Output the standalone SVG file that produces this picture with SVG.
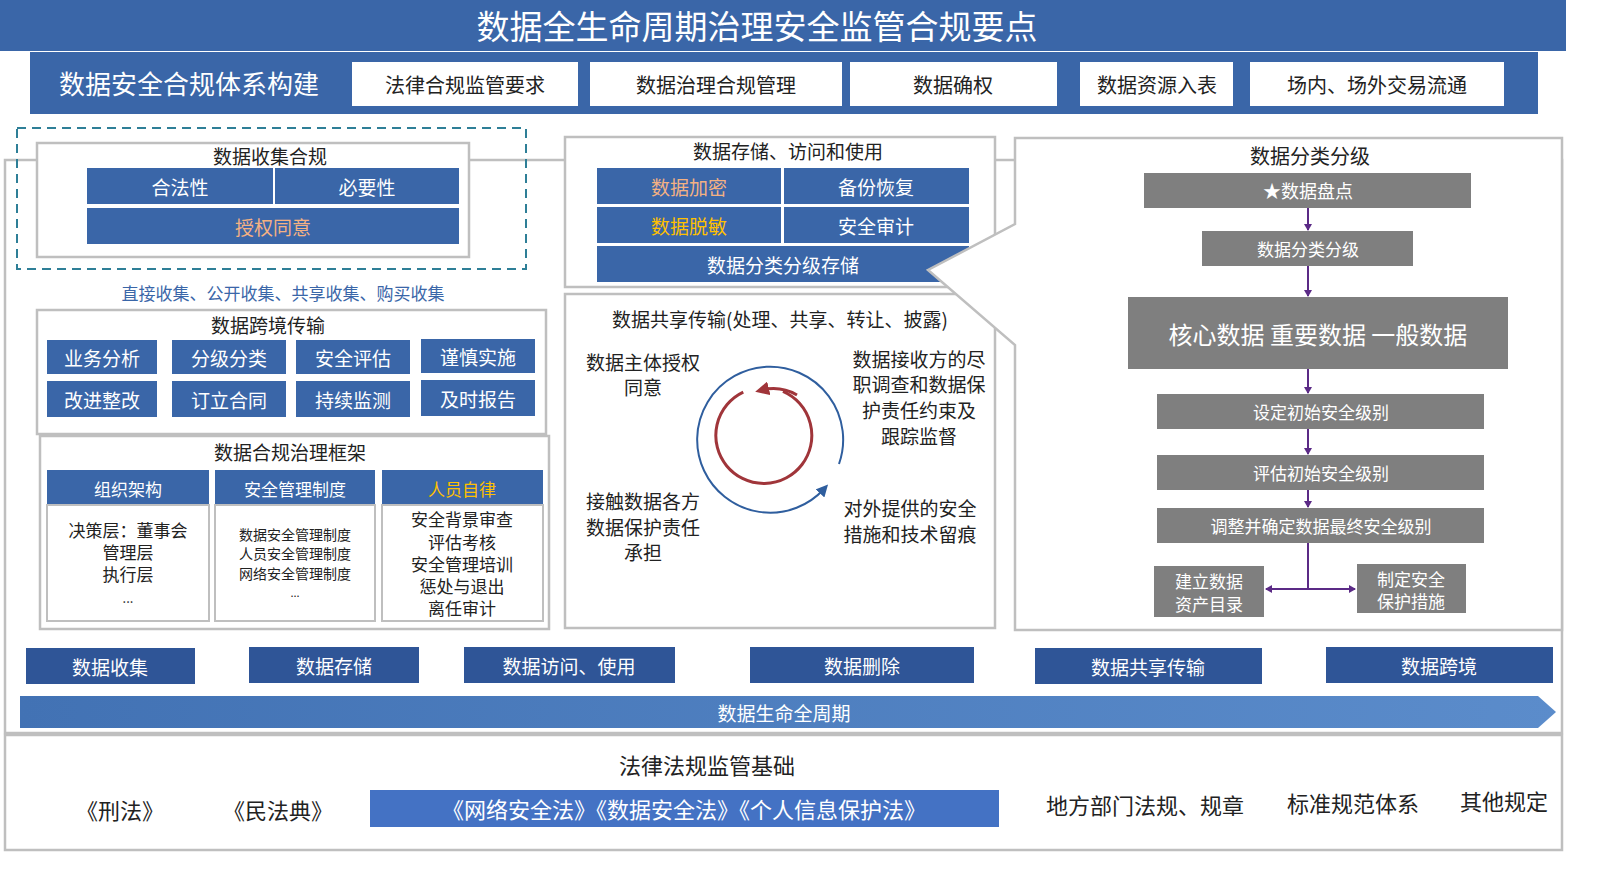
<svg xmlns="http://www.w3.org/2000/svg" width="1606" height="872" viewBox="0 0 1606 872">
<defs>
<style>
text{font-family:"Noto Sans CJK SC","Liberation Sans",sans-serif;text-anchor:middle;dominant-baseline:central}
.b{fill:#3A66A8}
.w{fill:#fff}
.g{fill:#7F7F7F}
.fr{fill:#fff;stroke:#BFBFBF;stroke-width:2.5}
.t{fill:#222}
.o{fill:#F4B183}
.y{fill:#FFC000}
.pl{stroke:#5B2A86;stroke-width:2;fill:none}
</style>
<marker id="pa" markerWidth="8" markerHeight="8" refX="6" refY="4" orient="auto" markerUnits="userSpaceOnUse"><path d="M0,0L7,4L0,8z" fill="#5B2A86"/></marker>
<marker id="ra" markerWidth="14" markerHeight="14" refX="7" refY="7" orient="auto" markerUnits="userSpaceOnUse"><path d="M0,0L14,7L0,14z" fill="#A0353A"/></marker>
<marker id="ba" markerWidth="12" markerHeight="12" refX="6" refY="6" orient="auto" markerUnits="userSpaceOnUse"><path d="M0,0L12,6L0,12z" fill="#2F5E9E"/></marker>
<linearGradient id="lg" x1="0" x2="1"><stop offset="0" stop-color="#4272B4"/><stop offset="1" stop-color="#5B8CCB"/></linearGradient>
</defs>
<rect width="1606" height="872" fill="#fff"/>
<g id="title"><rect x="0" y="0" width="1566" height="51" class="b"/><text x="757" y="25" font-size="33" class="w">数据全生命周期治理安全监管合规要点</text></g>
<g id="system">
<rect x="30" y="52" width="1508" height="62" class="b"/>
<text x="189" y="82" font-size="26" class="w">数据安全合规体系构建</text>
<rect x="352" y="62" width="226" height="44" class="w"/><text x="465" y="84" font-size="20" class="t">法律合规监管要求</text>
<rect x="590" y="62" width="252" height="44" class="w"/><text x="716" y="84" font-size="20" class="t">数据治理合规管理</text>
<rect x="850" y="62" width="207" height="44" class="w"/><text x="953" y="84" font-size="20" class="t">数据确权</text>
<rect x="1080" y="62" width="153" height="44" class="w"/><text x="1157" y="84" font-size="20" class="t">数据资源入表</text>
<rect x="1250" y="62" width="254" height="44" class="w"/><text x="1377" y="84" font-size="20" class="t">场内、场外交易流通</text>
</g>
<rect x="5" y="160" width="1557" height="573" fill="none" stroke="#BFBFBF" stroke-width="2.5"/>
<rect x="5" y="735" width="1557" height="115" fill="#fff" stroke="#BFBFBF" stroke-width="2.5"/>
<g id="collect">
<rect x="37" y="143" width="432" height="114" class="fr"/>
<text x="270" y="155" font-size="19" class="t">数据收集合规</text>
<rect x="87" y="168" width="186" height="36" class="b"/><text x="180" y="186" font-size="19" class="w">合法性</text>
<rect x="275" y="168" width="184" height="36" class="b"/><text x="367" y="186" font-size="19" class="w">必要性</text>
<rect x="87" y="208" width="372" height="36" class="b"/><text x="273" y="226" font-size="19" class="o">授权同意</text>
<rect x="17" y="128" width="509" height="141" fill="none" stroke="#2E7F97" stroke-width="2" stroke-dasharray="9,6"/>
<text x="283" y="292" font-size="17" fill="#3A66A8">直接收集、公开收集、共享收集、购买收集</text>
</g>
<g id="crossborder">
<rect x="37" y="310" width="509" height="124" class="fr"/>
<text x="268" y="324" font-size="19" class="t">数据跨境传输</text>
<rect x="47" y="340" width="110" height="34" class="b"/><text x="102" y="357" font-size="19" class="w">业务分析</text>
<rect x="172" y="340" width="114" height="34" class="b"/><text x="229" y="357" font-size="19" class="w">分级分类</text>
<rect x="296" y="340" width="114" height="34" class="b"/><text x="353" y="357" font-size="19" class="w">安全评估</text>
<rect x="421" y="339" width="114" height="34" class="b"/><text x="478" y="356" font-size="19" class="w">谨慎实施</text>
<rect x="47" y="381" width="110" height="36" class="b"/><text x="102" y="399" font-size="19" class="w">改进整改</text>
<rect x="172" y="381" width="114" height="36" class="b"/><text x="229" y="399" font-size="19" class="w">订立合同</text>
<rect x="296" y="381" width="114" height="36" class="b"/><text x="353" y="399" font-size="19" class="w">持续监测</text>
<rect x="421" y="380" width="114" height="36" class="b"/><text x="478" y="398" font-size="19" class="w">及时报告</text>
</g>
<g id="framework">
<rect x="40" y="436" width="509" height="193" class="fr"/>
<text x="290" y="451" font-size="19" class="t">数据合规治理框架</text>
<rect x="47" y="470" width="162" height="35" class="b"/><text x="128" y="488" font-size="17" class="w">组织架构</text>
<rect x="215" y="470" width="160" height="35" class="b"/><text x="295" y="488" font-size="17" class="w">安全管理制度</text>
<rect x="382" y="470" width="161" height="35" class="b"/><text x="462" y="488" font-size="17" class="y">人员自律</text>
<rect x="47" y="505" width="162" height="116" fill="#fff" stroke="#BFBFBF" stroke-width="2"/>
<rect x="215" y="505" width="160" height="116" fill="#fff" stroke="#BFBFBF" stroke-width="2"/>
<rect x="382" y="505" width="161" height="116" fill="#fff" stroke="#BFBFBF" stroke-width="2"/>
<text x="128" y="529" font-size="17" class="t">决策层：董事会</text><text x="128" y="551" font-size="17" class="t">管理层</text><text x="128" y="573" font-size="17" class="t">执行层</text><text x="128" y="597" font-size="13" class="t">...</text>
<text x="295" y="534" font-size="14" class="t">数据安全管理制度</text><text x="295" y="553" font-size="14" class="t">人员安全管理制度</text><text x="295" y="573" font-size="14" class="t">网络安全管理制度</text><text x="295" y="592" font-size="11" class="t">...</text>
<text x="462" y="518" font-size="17" class="t">安全背景审查</text><text x="462" y="541" font-size="17" class="t">评估考核</text><text x="462" y="563" font-size="17" class="t">安全管理培训</text><text x="462" y="585" font-size="17" class="t">惩处与退出</text><text x="462" y="607" font-size="17" class="t">离任审计</text>
</g>
<g id="storage">
<rect x="565" y="137" width="430" height="150" class="fr"/>
<text x="788" y="150" font-size="19" class="t">数据存储、访问和使用</text>
<rect x="597" y="168" width="184" height="36" class="b"/><text x="689" y="186" font-size="19" class="o">数据加密</text>
<rect x="784" y="168" width="185" height="36" class="b"/><text x="876" y="186" font-size="19" class="w">备份恢复</text>
<rect x="597" y="207" width="184" height="36" class="b"/><text x="689" y="225" font-size="19" class="y">数据脱敏</text>
<rect x="784" y="207" width="185" height="36" class="b"/><text x="876" y="225" font-size="19" class="w">安全审计</text>
<rect x="597" y="246" width="372" height="36" class="b"/><text x="783" y="264" font-size="19" class="w">数据分类分级存储</text>
</g>
<g id="sharing">
<rect x="565" y="294" width="430" height="334" class="fr"/>
<text x="780" y="318" font-size="19" class="t">数据共享传输(处理、共享、转让、披露)</text>
<path d="M839,464 A73,73 0 1 0 824,489" fill="none" stroke="#2F5E9E" stroke-width="2" marker-end="url(#ba)"/>
<path d="M750,394 A48,48 0 1 1 720,420" fill="none" stroke="#A0353A" stroke-width="3" transform="rotate(40 770 438)"/>
<path d="M797,395 A48,48 0 0 0 762,390" fill="none" stroke="#A0353A" stroke-width="3" marker-end="url(#ra)"/>
<text x="643" y="361" font-size="19" class="t">数据主体授权</text><text x="643" y="386" font-size="19" class="t">同意</text>
<text x="919" y="358" font-size="19" class="t">数据接收方的尽</text><text x="919" y="383" font-size="19" class="t">职调查和数据保</text><text x="919" y="409" font-size="19" class="t">护责任约束及</text><text x="919" y="435" font-size="19" class="t">跟踪监督</text>
<text x="643" y="500" font-size="19" class="t">接触数据各方</text><text x="643" y="526" font-size="19" class="t">数据保护责任</text><text x="643" y="551" font-size="19" class="t">承担</text>
<text x="910" y="507" font-size="19" class="t">对外提供的安全</text><text x="910" y="533" font-size="19" class="t">措施和技术留痕</text>
</g>
<g id="classify">
<path d="M1015,138 L1562,138 L1562,630 L1015,630 L1015,345 L928,270 L1015,224 Z" fill="#fff" stroke="#BFBFBF" stroke-width="2.5"/>
<text x="1310" y="155" font-size="20" class="t">数据分类分级</text>
<rect x="1144" y="173" width="327" height="35" class="g"/><text x="1308" y="190" font-size="18" class="w">★数据盘点</text>
<rect x="1202" y="231" width="211" height="35" class="g"/><text x="1308" y="248" font-size="17" class="w">数据分类分级</text>
<rect x="1128" y="297" width="380" height="72" class="g"/><text x="1318" y="333" font-size="24" class="w">核心数据 重要数据 一般数据</text>
<rect x="1157" y="394" width="327" height="35" class="g"/><text x="1321" y="411" font-size="17" class="w">设定初始安全级别</text>
<rect x="1157" y="455" width="327" height="35" class="g"/><text x="1321" y="472" font-size="17" class="w">评估初始安全级别</text>
<rect x="1157" y="508" width="327" height="35" class="g"/><text x="1321" y="525" font-size="17" class="w">调整并确定数据最终安全级别</text>
<rect x="1154" y="566" width="110" height="51" class="g"/><text x="1209" y="580" font-size="17" class="w">建立数据</text><text x="1209" y="603" font-size="17" class="w">资产目录</text>
<rect x="1357" y="564" width="109" height="49" class="g"/><text x="1411" y="578" font-size="17" class="w">制定安全</text><text x="1411" y="600" font-size="17" class="w">保护措施</text>
</g>
<g id="connectors">
<line x1="1308" y1="208" x2="1308" y2="230" class="pl" marker-end="url(#pa)"/>
<line x1="1308" y1="266" x2="1308" y2="296" class="pl" marker-end="url(#pa)"/>
<line x1="1308" y1="369" x2="1308" y2="393" class="pl" marker-end="url(#pa)"/>
<line x1="1308" y1="429" x2="1308" y2="454" class="pl" marker-end="url(#pa)"/>
<line x1="1308" y1="490" x2="1308" y2="507" class="pl" marker-end="url(#pa)"/>
<line x1="1308" y1="543" x2="1308" y2="589" class="pl"/>
<line x1="1308" y1="589" x2="1266" y2="589" class="pl" marker-end="url(#pa)"/>
<line x1="1308" y1="589" x2="1355" y2="589" class="pl" marker-end="url(#pa)"/>
</g>
<g id="stages">
<rect x="26" y="648" width="169" height="36" fill="#2F5597"/><text x="110" y="666" font-size="19" class="w">数据收集</text>
<rect x="249" y="647" width="170" height="36" fill="#2F5597"/><text x="334" y="665" font-size="19" class="w">数据存储</text>
<rect x="464" y="647" width="211" height="36" fill="#2F5597"/><text x="569" y="665" font-size="19" class="w">数据访问、使用</text>
<rect x="750" y="647" width="224" height="36" fill="#2F5597"/><text x="862" y="665" font-size="19" class="w">数据删除</text>
<rect x="1035" y="648" width="227" height="36" fill="#2F5597"/><text x="1148" y="666" font-size="19" class="w">数据共享传输</text>
<rect x="1326" y="647" width="227" height="36" fill="#2F5597"/><text x="1439" y="665" font-size="19" class="w">数据跨境</text>
<path d="M20,696 L1538,696 L1556,712 L1538,728 L20,728 Z" fill="url(#lg)"/>
<text x="784" y="712" font-size="19" class="w">数据生命全周期</text>
</g>
<g id="laws">
<text x="707" y="764" font-size="22" class="t">法律法规监管基础</text>
<text x="120" y="809" font-size="22" class="t">《刑法》</text>
<text x="278" y="809" font-size="22" class="t">《民法典》</text>
<rect x="370" y="790" width="629" height="37" fill="#4472C4"/>
<text x="684" y="808" font-size="22" class="w">《网络安全法》《数据安全法》《个人信息保护法》</text>
<text x="1145" y="804" font-size="22" class="t">地方部门法规、规章</text>
<text x="1353" y="802" font-size="22" class="t">标准规范体系</text>
<text x="1504" y="800" font-size="22" class="t">其他规定</text>
</g>
</svg>
